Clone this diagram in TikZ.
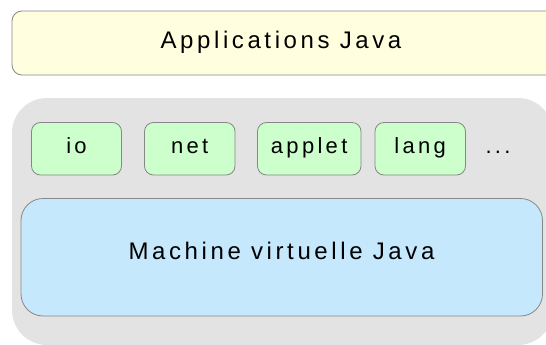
\documentclass[tikz,border=0pt]{standalone}
\usepackage{fontspec}
\setmainfont{Liberation Sans}[LetterSpace=15]
\definecolor{edgegray}{RGB}{135,135,135}
\definecolor{appyellow}{RGB}{255,255,224}
\definecolor{libgray}{RGB}{227,227,227}
\definecolor{pkggreen}{RGB}{204,255,204}
\definecolor{jvmblue}{RGB}{197,232,253}
\begin{document}
\begin{tikzpicture}[x=1pt, y=-1pt,
    box/.style={draw=edgegray, line width=0.8pt},
    pkg/.style={box, fill=pkggreen, rounded corners=9pt},
    bigtext/.style={font=\fontsize{24}{28}\selectfont, inner sep=0pt, anchor=base},
    smalltext/.style={font=\fontsize{22}{26}\selectfont, inner sep=0pt, anchor=base}]
    \useasboundingbox (0,0) rectangle (546,345);
    \clip (0,0) rectangle (546,345);
    \fill [white] (0,0) rectangle (546,345);
    \draw [box, fill=appyellow, rounded corners=10pt] (12,11) rectangle (570,75);
    \fill [libgray, rounded corners=35pt] (12,98) rectangle (553,345);
    \draw [pkg] (31.5,122.5) rectangle (121.5,175);
    \draw [pkg] (144.5,122.5) rectangle (235,175);
    \draw [pkg] (257.5,122.5) rectangle (361,175);
    \draw [pkg] (375,122.5) rectangle (465.5,175);
    \draw [box, fill=jvmblue, rounded corners=22pt] (21,198.5) rectangle (542.5,316);
    \node [bigtext] (apps) at (281,48.3) {Applications Java};
    \node [smalltext] (io) at (76.5,153.8) {io};
    \node [smalltext] (net) at (189.7,153.8) {net};
    \node [smalltext] (applet) at (309.2,153.8) {applet};
    \node [smalltext] (lang) at (420.2,153.8) {lang};
    \node [smalltext] (more) at (498,153.8) {...};
    \node [bigtext] (jvm) at (281.5,259) {Machine virtuelle Java};
\end{tikzpicture}
\end{document}
